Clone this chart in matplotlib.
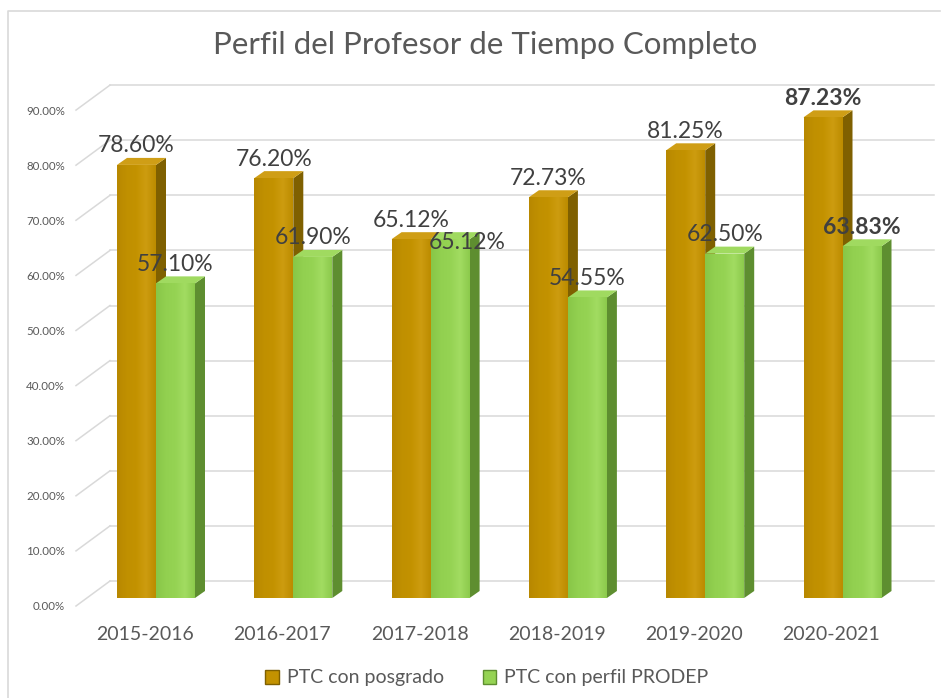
import matplotlib.pyplot as plt
import numpy as np
from matplotlib.patches import Polygon, Patch
from matplotlib.colors import LinearSegmentedColormap

plt.rcParams['font.family'] = ['Lato', 'DejaVu Sans']

# data
categories = ["2015-2016", "2016-2017", "2017-2018", "2018-2019", "2019-2020", "2020-2021"]
posgrado = [0.7860, 0.7620, 0.6512, 0.7273, 0.8125, 0.8723]
prodep = [0.5710, 0.6190, 0.6512, 0.5455, 0.6250, 0.6383]
series_names = ["PTC con posgrado", "PTC con perfil PRODEP"]
yticks = [0.0, 0.1, 0.2, 0.3, 0.4, 0.5, 0.6, 0.7, 0.8, 0.9]

# pixel layout of the picture (axes cover the whole figure)
W, H = 944, 698
X0, DX = 156.0, 137.3      # pixel x of first group centre, pixels per category
Y0, KY = 598.0, 551.0      # pixel y of bar base, pixels per unit value


def vx(p):
    return (p - X0) / DX


def vy(p):
    return (Y0 - p) / KY


fig = plt.figure(figsize=(W / 100, H / 100), dpi=100)
ax = fig.add_axes([0, 0, 1, 1])
ax.set_xlim(vx(0), vx(W))
ax.set_ylim(vy(H), vy(0))
ax.axis('off')

grid_c = '#D9D9D9'
text_c = '#595959'
label_c = '#404040'

# chart border (top / left)
ax.plot([vx(8), vx(8), vx(940)], [vy(H), vy(11), vy(11)], color=grid_c, lw=1.2, zorder=0)

# back-wall gridlines, floor diagonals and tick labels
back = 17 / KY
front = -9 / KY
for t in yticks:
    ax.plot([vx(110), vx(934)], [t + back, t + back], color=grid_c, lw=1.1, zorder=1)
    ax.plot([vx(76), vx(110)], [t + front + 1 / KY, t + back], color=grid_c, lw=1.1, zorder=1)
    ax.text(vx(65), t + front, f"{t * 100:.2f}%", ha='right', va='center',
            fontsize=8.3, color=text_c)

# bars with a fake 3D look
w = 39 / DX
ddx, ddy = 10 / DX, 7 / KY
x = np.arange(len(categories))

styles = [
    dict(front=['#B88800', '#C09000', '#C39200', '#CD9C10', '#BC8C00'],
         side='#7F6000', top='#CF9E16'),
    dict(front=['#88C648', '#92D050', '#95D353', '#A2DC62', '#8CCA4C'],
         side='#5E8E30', top='#A0DA60'),
]

for k, (vals, offs) in enumerate([(posgrado, -w / 2), (prodep, w / 2)]):
    st = styles[k]
    cmap = LinearSegmentedColormap.from_list('f%d' % k, st['front'])
    bars = ax.bar(x + offs, vals, width=w, color=st['front'][1], linewidth=0,
                  zorder=3 + k * 2, label=series_names[k])
    for b in bars:
        x0, x1, h = b.get_x(), b.get_x() + b.get_width(), b.get_height()
        side = Polygon([(x1, 0), (x1 + ddx, ddy), (x1 + ddx, h + ddy), (x1, h)],
                       closed=True, facecolor=st['side'], edgecolor='none', zorder=2 + k * 2)
        top = Polygon([(x0, h), (x0 + ddx, h + ddy), (x1 + ddx, h + ddy), (x1, h)],
                      closed=True, facecolor=st['top'], edgecolor='none', zorder=3 + k * 2)
        ax.add_patch(side)
        ax.add_patch(top)
        grad = ax.imshow(np.linspace(0, 1, 64).reshape(1, -1), cmap=cmap, aspect='auto',
                         extent=(x0, x1, 0, h), zorder=3 + k * 2, interpolation='bilinear')
        grad.set_clip_path(b)

ax.set_xlim(vx(0), vx(W))
ax.set_ylim(vy(H), vy(0))

# data labels
lab_dy = 19 / KY
for i in range(len(categories)):
    bold = 'bold' if i == len(categories) - 1 else 'normal'
    ax.text(x[i] - w / 2, posgrado[i] + lab_dy, f"{posgrado[i] * 100:.2f}%", ha='center',
            va='center', fontsize=16.5, color=label_c, fontweight=bold, zorder=10)
    gx, gy = x[i] + w / 2, prodep[i] + lab_dy
    if prodep[i] == posgrado[i]:
        gx, gy = gx + 17 / DX, prodep[i] - 3 / KY
    ax.text(gx, gy, f"{prodep[i] * 100:.2f}%", ha='center', va='center',
            fontsize=16.5, color=label_c, fontweight=bold, zorder=10)

# category labels
for i, c in enumerate(categories):
    ax.text(x[i] - 11 / DX, vy(635), c, ha='center', va='center', fontsize=14, color=text_c)

# title
ax.text(vx(485), vy(45), "Perfil del Profesor de Tiempo Completo", ha='center', va='center',
        fontsize=22.5, color=text_c)

# legend
handles = [Patch(facecolor=styles[0]['front'][2], edgecolor=styles[0]['side'], lw=1),
           Patch(facecolor=styles[1]['front'][2], edgecolor=styles[1]['side'], lw=1)]
leg = fig.legend(handles, series_names, loc='center', bbox_to_anchor=(487 / W, 1 - 678 / H),
                 ncol=2, frameon=False, fontsize=14, handlelength=0.7, handleheight=0.7,
                 handletextpad=0.4, columnspacing=2.0, labelcolor=text_c)

fig.savefig('out.png', dpi=100)
